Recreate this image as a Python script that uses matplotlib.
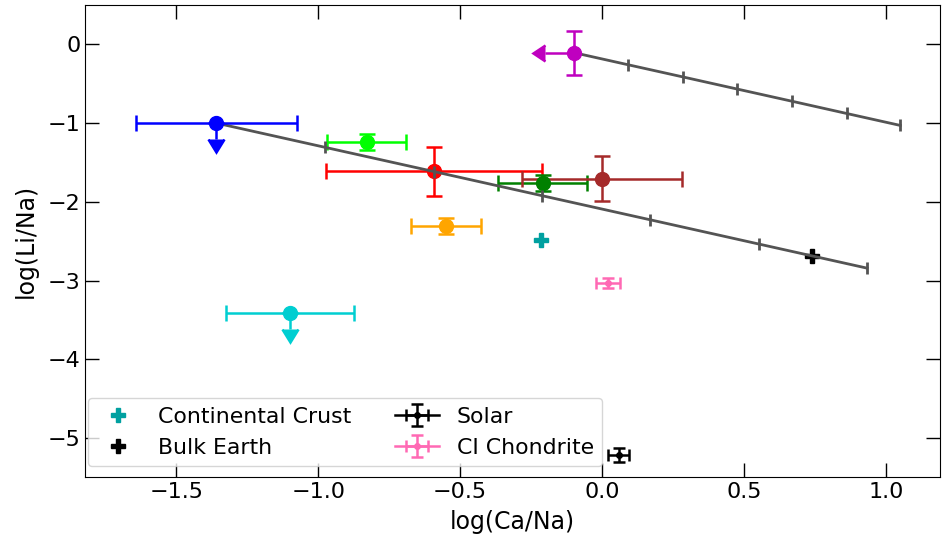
import numpy as np
from matplotlib import pyplot as plt

# sample points: x, y, xerr, yerr, colour
sample_x = [-1.359, -0.829, -0.591, -0.210, 0.0, -0.550, -1.099, -0.100]
sample_y = [-1.0, -1.242, -1.614, -1.758, -1.707, -2.31, -3.41, -0.105]
sample_xerr = [0.283, 0.14, 0.38, 0.156, 0.282, 0.124, 0.224, 0.1]
sample_yerr = [0.2, 0.1, 0.31, 0.1, 0.285, 0.1, 0.2, 0.28]
sample_colors = ['b', 'lime', 'r', 'g', 'brown', 'orange', 'darkturquoise', 'm']
sample_uplim = [True, False, False, False, False, False, True, False]
sample_xuplim = [False, False, False, False, False, False, False, True]

# reference compositions
crust_x, crust_y = -0.216, -2.49
earth_x, earth_y = 0.738, -2.695
solar_x, solar_y, solar_xerr, solar_yerr = 0.059, -5.216, 0.037, 0.085
ci_x, ci_y, ci_xerr, ci_yerr = 0.021, -3.03, 0.042, 0.065

# two tracks with tick marks
track1_x = [-1.359, -0.976, -0.591, -0.2135, 0.1685, 0.551, 0.933]
track1_y = [-1.0, -1.308, -1.617, -1.921, -2.228, -2.536, -2.843]
track2_x = [-0.100, 0.0925, 0.2846, 0.476, 0.669, 0.861, 1.050]
track2_y = [-0.105, -0.260, -0.414, -0.568, -0.723, -0.878, -1.030]

fig = plt.figure(figsize=(9.44, 5.43), dpi=100)
ax = fig.add_axes([0.0904, 0.121, 0.9054, 0.8698])

ax.plot(crust_x, crust_y, 'P', color='#00a0a0', ms=10, label='Continental Crust')
ax.plot(earth_x, earth_y, 'P', color='k', ms=10, label='Bulk Earth', zorder=2)
ax.errorbar(solar_x, solar_y, xerr=solar_xerr, yerr=solar_yerr, marker='.', color='k',
            ms=8, capsize=4, lw=1.8, capthick=1.8, label='Solar')
ax.errorbar(ci_x, ci_y, xerr=ci_xerr, yerr=ci_yerr, marker='.', color='hotpink',
            ms=8, capsize=4, lw=1.8, capthick=1.8, label='CI Chondrite')

for i in range(len(sample_x)):
    # endpoints of the tracks sit on top of the lines
    z = 4 if (sample_uplim[i] or sample_xuplim[i]) else 2
    ax.errorbar(sample_x[i], sample_y[i], xerr=sample_xerr[i], yerr=sample_yerr[i],
                fmt='o', color=sample_colors[i], ms=10, capsize=6,
                elinewidth=1.8, capthick=1.8,
                uplims=sample_uplim[i], xuplims=sample_xuplim[i], zorder=z)

for tx, ty in [(track1_x, track1_y), (track2_x, track2_y)]:
    ax.plot(tx, ty, '-', color='0.33', lw=2, marker='|', ms=9, mew=2, zorder=3)

ax.set_xlim(-1.82, 1.19)
ax.set_ylim(-5.5, 0.5)
ax.set_xticks([-1.5, -1.0, -0.5, 0.0, 0.5, 1.0])
ax.set_yticks([0, -1, -2, -3, -4, -5])
ax.tick_params(direction='in', length=10, width=1, top=True, right=True, labelsize=16)
ax.set_xlabel('log(Ca/Na)', fontsize=17, labelpad=6)
ax.set_ylabel('log(Li/Na)', fontsize=17, labelpad=7)

ax.legend(loc='lower left', ncol=2, fontsize=15.8, bbox_to_anchor=(-0.01, 0.0))

plt.savefig('out.png', dpi=100)
